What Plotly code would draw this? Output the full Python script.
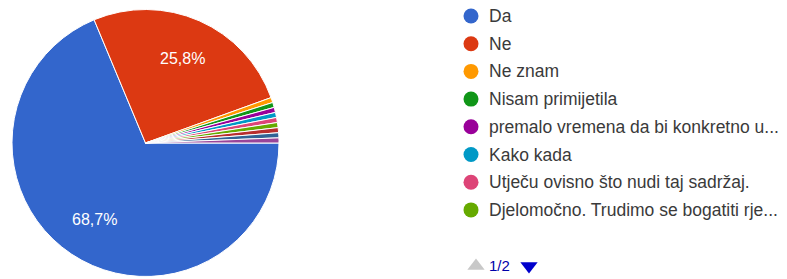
import math
import plotly.graph_objects as go

# ---- data ----
labels = ["Da", "Ne", "Ne znam", "Nisam primijetila",
          "premalo vremena da bi konkretno u...", "Kako kada",
          "Utječu ovisno što nudi taj sadržaj.",
          "Djelomočno. Trudimo se bogatiti rje...",
          "Odgovor 9", "Odgovor 10", "Odgovor 11"]
values = [112, 42, 1, 1, 1, 1, 1, 1, 1, 1, 1]
colors = ["#3366cc", "#dc3912", "#ff9900", "#109618", "#990099", "#0099c6",
          "#dd4477", "#66aa00", "#b82e2e", "#316395", "#994499"]
legend_count = 8          # entries shown on legend page 1
page_text = "1/2"

W, H = 787, 279
FONT = "Arial, Liberation Sans, sans-serif"

# pie geometry (pixels)
cx, cy, R = 145.5, 143, 133.5
start_deg = 90  # first slice starts at 3 o'clock, clockwise

fig = go.Figure()

fig.add_trace(go.Pie(
    labels=labels, values=values, sort=False, direction="clockwise",
    rotation=start_deg,
    marker=dict(colors=colors, line=dict(color="white", width=1)),
    textinfo="none",
    domain=dict(x=[(cx - R) / W, (cx + R) / W], y=[(H - cy - R) / H, (H - cy + R) / H]),
    showlegend=False, hoverinfo="label+percent",
))

# percentage labels for the large slices, placed at slice mid-angle
total = sum(values)
cum = 0
for v in values:
    frac = v / total
    if frac > 0.1:
        mid = math.radians(start_deg + (cum + frac / 2) * 360)
        r = 0.69 * R
        fig.add_annotation(
            x=cx + r * math.sin(mid), y=cy - r * math.cos(mid),
            xref="x", yref="y", showarrow=False,
            text=f"{frac * 100:.1f}%".replace(".", ","),
            font=dict(color="white", size=16, family=FONT),
        )
    cum += frac

# ---- manual legend (page 1) ----
mx, tx = 471, 487
ly0, dy = 16, 27.7
ys = [ly0 + i * dy for i in range(legend_count)]
fig.add_trace(go.Scatter(
    x=[mx] * legend_count, y=ys, mode="markers",
    marker=dict(size=15, color=colors[:legend_count]),
    showlegend=False, hoverinfo="skip", cliponaxis=False,
))
for yv, t in zip(ys, labels[:legend_count]):
    fig.add_annotation(x=tx, y=yv, xref="x", yref="y", text=t, showarrow=False,
                       xanchor="left", yanchor="middle",
                       font=dict(color="#3a3a3a", size=17.5, family=FONT))

# pagination
py = ys[-1] + 56
fig.add_trace(go.Scatter(
    x=[476, 529], y=[py, py], mode="markers",
    marker=dict(size=15, symbol=["triangle-up", "triangle-down"], color=["#c8c8c8", "#0000cc"],
                line=dict(width=0)),
    showlegend=False, hoverinfo="skip", cliponaxis=False,
))
fig.add_annotation(x=487, y=py, xref="x", yref="y", text=page_text, showarrow=False,
                   xanchor="left", yanchor="middle",
                   font=dict(color="#0000aa", size=15, family=FONT))

fig.update_layout(
    width=W, height=H, margin=dict(l=0, r=0, t=0, b=0),
    paper_bgcolor="white", plot_bgcolor="rgba(0,0,0,0)",
    xaxis=dict(range=[0, W], domain=[0, 1], visible=False, fixedrange=True),
    yaxis=dict(range=[H, 0], domain=[0, 1], visible=False, fixedrange=True),
)

fig.write_html("out.html", config={"displayModeBar": False},
               post_script="document.body.style.margin='0';")
